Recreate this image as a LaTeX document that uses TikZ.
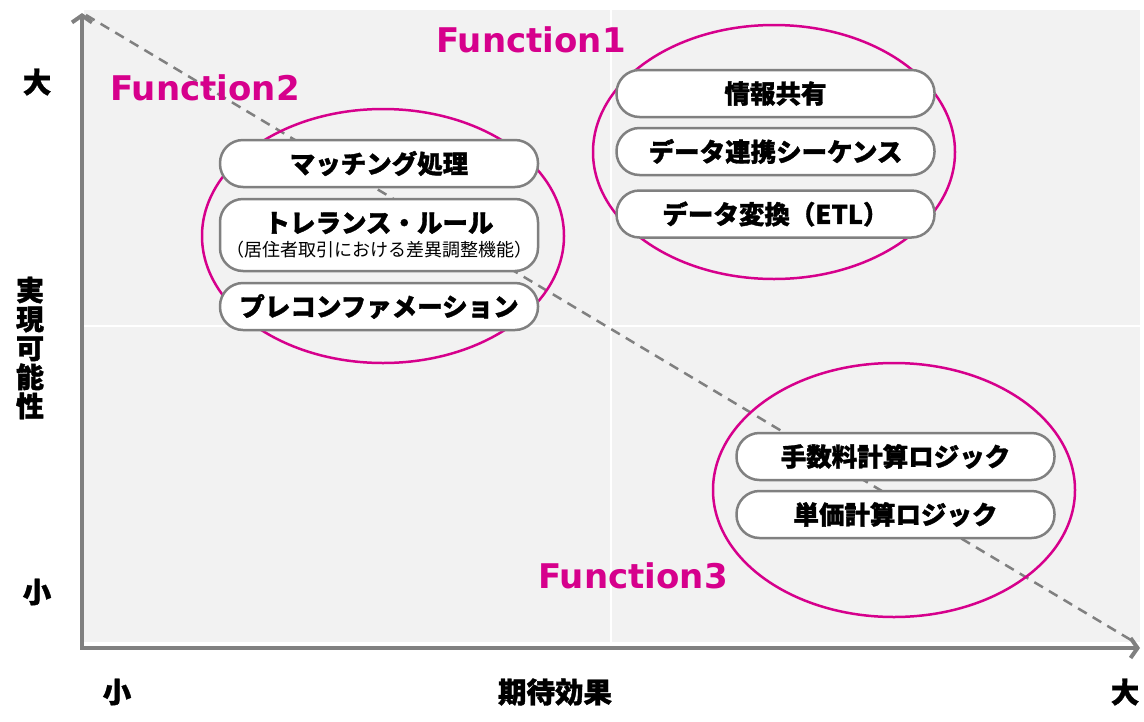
\documentclass[tikz,border=0pt]{standalone}
\usepackage{fontspec}
\newfontfamily\jp{Noto Sans CJK JP}[BoldFeatures={FakeBold=1.3}]
\newfontfamily\fn{DejaVu Sans}
\usetikzlibrary{arrows.meta,shapes.geometric}
\definecolor{bg}{HTML}{F2F2F2}
\definecolor{ax}{HTML}{808080}
\definecolor{mag}{HTML}{D6008C}
\begin{document}
\begin{tikzpicture}[x=1pt,y=-1pt,
  box/.style={draw=ax, line width=2.5pt, fill=white, rounded corners=23pt,
    minimum width=318pt, minimum height=47pt, inner sep=0pt,
    font=\jp\bfseries\fontsize{25.5}{30}\selectfont},
  ell/.style={draw=mag, line width=2.5pt, ellipse, inner sep=0pt,
    minimum width=362pt, minimum height=254pt},
  fnlabel/.style={text=mag, font=\fn\bfseries\fontsize{34}{40}\selectfont, inner sep=0pt},
  axlabel/.style={font=\jp\bfseries\fontsize{28.5}{30}\selectfont, inner sep=0pt},
  axisline/.style={draw=ax, line width=4pt},
  divider/.style={draw=white, line width=2pt},
  trend/.style={draw=ax, line width=2.5pt, dash pattern=on 10pt off 7pt}
]
\useasboundingbox (0,0) rectangle (1144,721);
% background
\fill[bg] (84,10) rectangle (1140,642);
\coordinate (vt) at (611,10);
\coordinate (vb) at (611,642);
\coordinate (hl) at (84,326);
\coordinate (hr) at (1140,326);
\draw[divider] (vt) -- (vb);
\draw[divider] (hl) -- (hr);
% trend line
\coordinate (ds) at (86,15);
\coordinate (de) at (1136,643);
\draw[trend] (ds) -- (de);
% axes
\coordinate (O) at (82,648);
\coordinate (yt) at (82,13);
\coordinate (xt) at (1140,648);
\draw[axisline, {Straight Barb[length=7pt,width=20pt]}-{Straight Barb[length=7pt,width=20pt]}] (yt) -- (O) -- (xt);
% ellipses
\node[ell] (e1) at (774,152) {};
\node[ell] (e2) at (383,236) {};
\node[ell] (e3) at (894,490) {};
% function labels
\node[fnlabel] (f1) at (531,40) {Function1};
\node[fnlabel] (f2) at (205,88) {Function2};
\node[fnlabel] (f3) at (633,576) {Function3};
% Function1 boxes
\node[box] (b11) at (775.5,93.5) {情報共有};
\node[box] (b12) at (775.5,151.5) {データ連携シーケンス};
\node[box] (b13) at (775.5,214) {データ変換（ETL）};
% Function2 boxes
\node[box] (b21) at (379,163.5) {マッチング処理};
\node[box, minimum height=72pt, align=center] (b22) at (379,235)
  {トレランス・ルール\\[-6pt]{\fontsize{18}{20}\selectfont\mdseries（居住者取引における差異調整機能）}};
\node[box] (b23) at (379,306.5) {プレコンファメーション};
% Function3 boxes
\node[box] (b31) at (895.5,456.5) {手数料計算ロジック};
\node[box] (b32) at (895.5,514.5) {単価計算ロジック};
% axis labels
\node[axlabel] (ybig) at (37,82) {大};
\node[axlabel] (ysmall) at (37,592) {小};
\node[axlabel, align=center, font=\jp\bfseries\fontsize{28}{29}\selectfont] (ytitle) at (30,348) {実\\現\\可\\能\\性};
\node[axlabel] (xsmall) at (117,692) {小};
\node[axlabel] (xtitle) at (555,692) {期待効果};
\node[axlabel] (xbig) at (1125,692) {大};
\end{tikzpicture}
\end{document}
